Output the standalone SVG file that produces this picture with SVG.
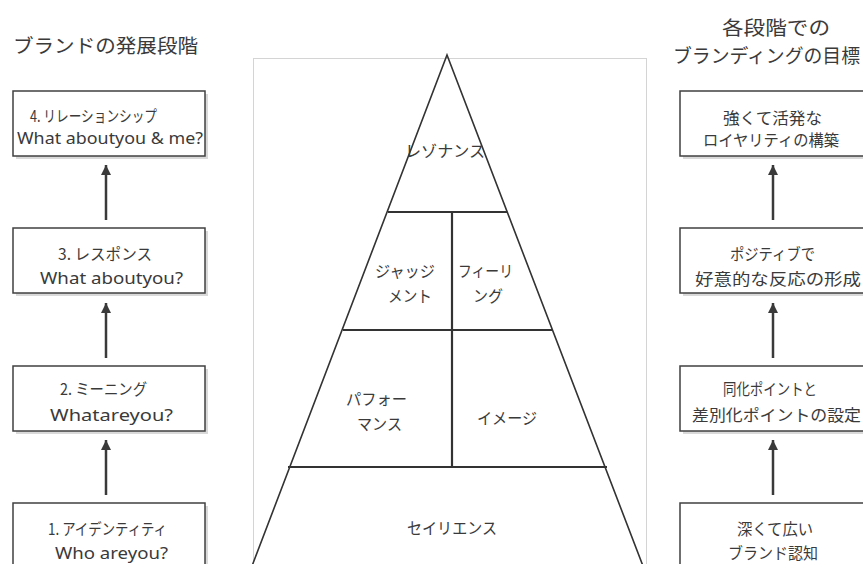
<svg xmlns="http://www.w3.org/2000/svg" width="863" height="564" viewBox="0 0 863 564">
<style>
  .jp { font-family: "Noto Sans CJK JP", "Noto Sans", sans-serif; fill: #3a3a3a; dominant-baseline: central; }
  .en { font-family: "Noto Sans", "Noto Sans CJK JP", sans-serif; fill: #3a3a3a; dominant-baseline: central; }
  .title { font-size: 19px; }
  .bt { font-size: 15.5px; }
  .be { font-size: 16.5px; }
  .pt { font-size: 16px; }
  .box { fill: #ffffff; stroke: #404040; stroke-width: 1.5; }
  .shadow { fill: #d9d9d9; }
  .conn { stroke: #3a3a3a; stroke-width: 2.5; fill: none; marker-end: url(#ah); }
  .pyr { stroke: #333333; stroke-width: 1.6; fill: none; }
  .div { stroke: #333333; stroke-width: 2.2; fill: none; }
</style>
<defs>
  <marker id="ah" markerUnits="userSpaceOnUse" markerWidth="10" markerHeight="11" refX="10" refY="5" orient="auto">
    <path d="M0,0 L10,5 L0,10 z" fill="#3a3a3a"/>
  </marker>
</defs>
<rect width="863" height="564" fill="#ffffff"/>

<g id="title-left"><text class="jp title" x="13" y="44" textLength="185" lengthAdjust="spacingAndGlyphs">ブランドの発展段階</text></g>
<g id="title-right">
  <text class="jp title" x="722" y="26" textLength="108" lengthAdjust="spacingAndGlyphs">各段階での</text>
  <text class="jp title" x="673" y="54" textLength="187" lengthAdjust="spacingAndGlyphs">ブランディングの目標</text>
</g>

<g id="pyramid">
  <rect x="253.5" y="58.5" width="393" height="520" fill="none" stroke="#d4d4d4" stroke-width="1"/>
  <path class="pyr" d="M252,566 L447,55 L643,566"/>
  <line class="div" x1="388" y1="212" x2="507" y2="212"/>
  <line class="div" x1="343" y1="330" x2="552" y2="330"/>
  <line class="div" x1="288" y1="467" x2="607" y2="467"/>
  <line class="div" x1="452" y1="212" x2="452" y2="467"/>
</g>
<g id="p-resonance"><text class="jp pt" x="405" y="150" textLength="80" lengthAdjust="spacingAndGlyphs">レゾナンス</text></g>
<g id="p-judgment">
  <text class="jp pt" x="375" y="270" textLength="60" lengthAdjust="spacingAndGlyphs">ジャッジ</text>
  <text class="jp pt" x="388" y="295" textLength="44" lengthAdjust="spacingAndGlyphs">メント</text>
</g>
<g id="p-feeling">
  <text class="jp pt" x="458" y="270" textLength="55" lengthAdjust="spacingAndGlyphs">フィーリ</text>
  <text class="jp pt" x="473" y="295" textLength="30" lengthAdjust="spacingAndGlyphs">ング</text>
</g>
<g id="p-performance">
  <text class="jp pt" x="346" y="398" textLength="61" lengthAdjust="spacingAndGlyphs">パフォー</text>
  <text class="jp pt" x="357" y="423" textLength="45" lengthAdjust="spacingAndGlyphs">マンス</text>
</g>
<g id="p-image"><text class="jp pt" x="477" y="417" textLength="60" lengthAdjust="spacingAndGlyphs">イメージ</text></g>
<g id="p-salience"><text class="jp pt" x="407" y="527" textLength="90" lengthAdjust="spacingAndGlyphs">セイリエンス</text></g>

<g id="box-4">
  <rect class="shadow" x="16" y="94" width="192" height="65"/>
  <rect class="box" x="13" y="91" width="192" height="65"/>
  <text class="jp bt" x="30" y="115" textLength="127" lengthAdjust="spacingAndGlyphs">4. リレーションシップ</text>
  <text class="en be" x="17" y="137" textLength="186" lengthAdjust="spacingAndGlyphs">What aboutyou &amp; me?</text>
</g>
<g id="box-3">
  <rect class="shadow" x="16" y="231" width="192" height="65"/>
  <rect class="box" x="13" y="228" width="192" height="65"/>
  <text class="jp bt" x="58" y="253" textLength="94" lengthAdjust="spacingAndGlyphs">3. レスポンス</text>
  <text class="en be" x="40" y="277" textLength="143" lengthAdjust="spacingAndGlyphs">What aboutyou?</text>
</g>
<g id="box-2">
  <rect class="shadow" x="16" y="369" width="192" height="65"/>
  <rect class="box" x="13" y="366" width="192" height="65"/>
  <text class="jp bt" x="60" y="388" textLength="87" lengthAdjust="spacingAndGlyphs">2. ミーニング</text>
  <text class="en be" x="50" y="414" textLength="123" lengthAdjust="spacingAndGlyphs">Whatareyou?</text>
</g>
<g id="box-1">
  <rect class="shadow" x="16" y="506" width="192" height="70"/>
  <rect class="box" x="13" y="503" width="192" height="70"/>
  <text class="jp bt" x="48" y="528" textLength="119" lengthAdjust="spacingAndGlyphs">1. アイデンティティ</text>
  <text class="en be" x="55" y="552" textLength="113" lengthAdjust="spacingAndGlyphs">Who areyou?</text>
</g>

<g id="goal-4">
  <rect class="shadow" x="683" y="94" width="200" height="65"/>
  <rect class="box" x="680" y="91" width="200" height="65"/>
  <text class="jp pt" x="723" y="117" textLength="99" lengthAdjust="spacingAndGlyphs">強くて活発な</text>
  <text class="jp pt" x="703" y="139" textLength="136" lengthAdjust="spacingAndGlyphs">ロイヤリティの構築</text>
</g>
<g id="goal-3">
  <rect class="shadow" x="683" y="231" width="200" height="65"/>
  <rect class="box" x="680" y="228" width="200" height="65"/>
  <text class="jp pt" x="730" y="253" textLength="85" lengthAdjust="spacingAndGlyphs">ポジティブで</text>
  <text class="jp pt" x="695" y="278" textLength="166" lengthAdjust="spacingAndGlyphs">好意的な反応の形成</text>
</g>
<g id="goal-2">
  <rect class="shadow" x="683" y="369" width="200" height="65"/>
  <rect class="box" x="680" y="366" width="200" height="65"/>
  <text class="jp pt" x="723" y="388" textLength="94" lengthAdjust="spacingAndGlyphs">同化ポイントと</text>
  <text class="jp pt" x="692" y="414" textLength="169" lengthAdjust="spacingAndGlyphs">差別化ポイントの設定</text>
</g>
<g id="goal-1">
  <rect class="shadow" x="683" y="506" width="200" height="70"/>
  <rect class="box" x="680" y="503" width="200" height="70"/>
  <text class="jp pt" x="737" y="528" textLength="76" lengthAdjust="spacingAndGlyphs">深くて広い</text>
  <text class="jp pt" x="728" y="552" textLength="90" lengthAdjust="spacingAndGlyphs">ブランド認知</text>
</g>

<g id="connectors">
  <line class="conn" x1="106" y1="220" x2="106" y2="165"/>
  <line class="conn" x1="106" y1="358" x2="106" y2="303"/>
  <line class="conn" x1="106" y1="495" x2="106" y2="440"/>
  <line class="conn" x1="773" y1="220" x2="773" y2="165"/>
  <line class="conn" x1="773" y1="358" x2="773" y2="303"/>
  <line class="conn" x1="773" y1="495" x2="773" y2="440"/>
</g>
</svg>
